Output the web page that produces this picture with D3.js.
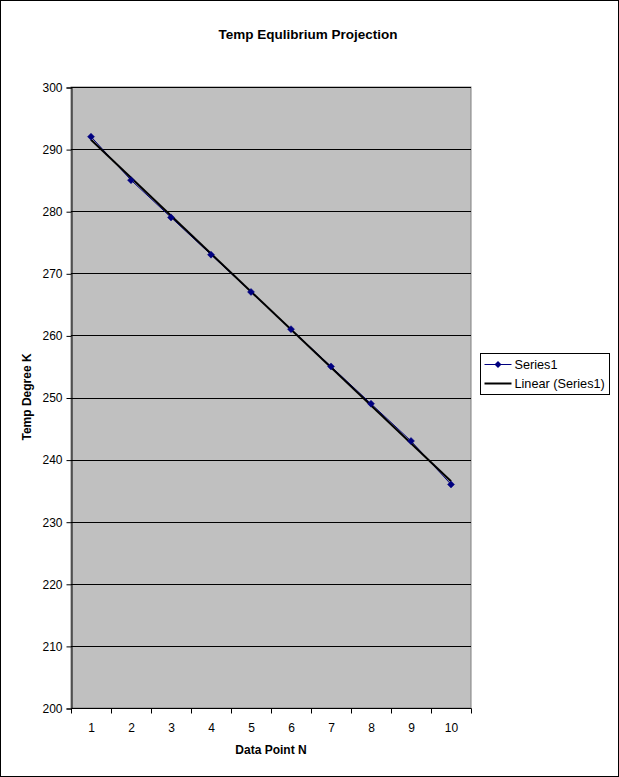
<!DOCTYPE html>
<html><head><meta charset="utf-8">
<script src="https://cdn.jsdelivr.net/npm/d3@7"></script>
<style>body{margin:0;background:#fff;}svg{display:block;font-family:"Liberation Sans",Arial,sans-serif;}</style>
</head><body>
<svg id="c" width="619" height="777"></svg>
<script>
const categories = ["1","2","3","4","5","6","7","8","9","10"];
const series1 = [292,285,279,273,267,261,255,249,243,236];
const yTicks = [200,210,220,230,240,250,260,270,280,290,300];
const titleText = "Temp Equlibrium Projection";
const xTitle = "Data Point N";
const yTitle = "Temp Degree K";
const legendLabels = ["Series1","Linear (Series1)"];

const svg = d3.select("#c");
svg.append("rect").attr("x",0.5).attr("y",0.5).attr("width",618).attr("height",776)
  .attr("fill","#fff").attr("stroke","#000");

const L=71, R=471, T=87, B=708;
const x = d3.scaleBand().domain(categories).range([L,R]);
const y = d3.scaleLinear().domain([200,300]).range([B,T]);
const cx = c => x(c)+x.bandwidth()/2;

svg.append("rect").attr("x",L).attr("y",T).attr("width",R-L).attr("height",B-T)
  .attr("fill","#c0c0c0").attr("stroke","#808080").attr("stroke-width",1);

// gridlines
svg.append("g").selectAll("line").data(yTicks.filter(v=>v>200)).join("line")
  .attr("x1",L).attr("x2",R).attr("y1",d=>Math.round(y(d))+0.5).attr("y2",d=>Math.round(y(d))+0.5)
  .attr("stroke","#000").attr("stroke-width",1);

// y axis
const yAxis = d3.axisLeft(y).tickValues(yTicks).tickSize(5).tickPadding(4);
const gy = svg.append("g").attr("transform",`translate(${L+0.5},0.5)`).call(yAxis);
gy.select(".domain").attr("stroke","#000");
gy.selectAll(".tick line").attr("stroke","#000");
gy.selectAll("text").attr("font-size",12).attr("fill","#000").attr("font-family","Liberation Sans, Arial, sans-serif");

// x axis (ticks between categories)
const gx = svg.append("g").attr("transform",`translate(0.5,${B+0.5})`);
gx.append("line").attr("x1",L).attr("x2",R).attr("stroke","#000");
const bounds = categories.map(c=>x(c)).concat([R]);
gx.selectAll("line.tk").data(bounds).join("line").attr("class","tk")
  .attr("x1",d=>Math.round(d)).attr("x2",d=>Math.round(d)).attr("y1",0).attr("y2",5).attr("stroke","#000");
gx.selectAll("text").data(categories).join("text")
  .attr("x",d=>cx(d)).attr("y",23).attr("text-anchor","middle")
  .attr("font-size",12).attr("fill","#000").text(d=>d);

// trendline (least squares)
const n = series1.length;
const xs = series1.map((_,i)=>i+1);
const mx = d3.mean(xs), my = d3.mean(series1);
const slope = d3.sum(xs.map((xi,i)=>(xi-mx)*(series1[i]-my)))/d3.sum(xs.map(xi=>(xi-mx)**2));
const icpt = my - slope*mx;
const xi2px = d3.scaleLinear().domain([1,n]).range([cx(categories[0]),cx(categories[n-1])]);

// series line
svg.append("path").datum(series1)
  .attr("d",d3.line().x((d,i)=>cx(categories[i])).y(d=>y(d)))
  .attr("fill","none").attr("stroke","#000080").attr("stroke-width",1);

svg.append("line")
  .attr("x1",xi2px(1)).attr("y1",y(icpt+slope*1))
  .attr("x2",xi2px(n)).attr("y2",y(icpt+slope*n))
  .attr("stroke","#000").attr("stroke-width",2);

// markers (square diamond)
const diamond = "M0,-3.5L3.5,0L0,3.5L-3.5,0Z";
svg.append("g").selectAll("path").data(series1).join("path")
  .attr("transform",(d,i)=>`translate(${cx(categories[i])},${y(d)})`)
  .attr("d",diamond).attr("fill","#000080").attr("stroke","#000080").attr("stroke-width",0.5);

// titles
svg.append("text").attr("x",308).attr("y",39).attr("text-anchor","middle")
  .attr("font-size",13.5).attr("font-weight","bold").text(titleText);
svg.append("text").attr("x",271).attr("y",754).attr("text-anchor","middle")
  .attr("font-size",12).attr("font-weight","bold").text(xTitle);
svg.append("text").attr("transform","translate(31,397) rotate(-90)").attr("text-anchor","middle")
  .attr("font-size",12).attr("font-weight","bold").text(yTitle);

// legend
const lg = svg.append("g").attr("transform","translate(480.5,353.5)");
lg.append("rect").attr("width",129).attr("height",41).attr("fill","#fff").attr("stroke","#000");
lg.append("line").attr("x1",4).attr("x2",31).attr("y1",11).attr("y2",11).attr("stroke","#000080");
lg.append("path").attr("transform","translate(17.5,11)").attr("d",diamond).attr("fill","#000080");
lg.append("line").attr("x1",4).attr("x2",31).attr("y1",30).attr("y2",30).attr("stroke","#000").attr("stroke-width",2);
lg.selectAll("text").data(legendLabels).join("text")
  .attr("x",34).attr("y",(d,i)=>15+i*19).attr("font-size",12.7).text(d=>d);
</script>
</body></html>
